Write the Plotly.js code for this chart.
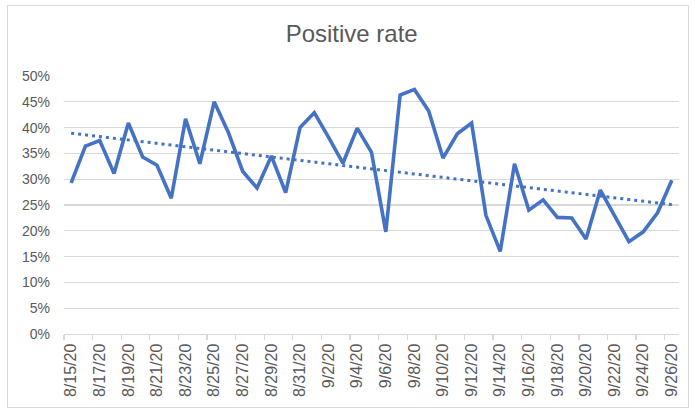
<!DOCTYPE html>
<html>
<head>
<meta charset="utf-8">
<script src="https://cdn.plot.ly/plotly-3.0.1.min.js"></script>
<style>
  html, body { margin: 0; padding: 0; background: #ffffff; }
  #wrap { position: relative; width: 695px; height: 414px; }
  #chart { width: 695px; height: 414px; }
  #frame { position: absolute; left: 7px; top: 5px; width: 682px; height: 403px;
           border: 1.5px solid #d9d9d9; pointer-events: none; box-sizing: border-box; }
</style>
</head>
<body>
<div id="wrap">
  <div id="chart"></div>
  <div id="frame"></div>
</div>
<script>
// Dates (one per day)
const dates = [
  "8/15/20","8/16/20","8/17/20","8/18/20","8/19/20","8/20/20","8/21/20","8/22/20",
  "8/23/20","8/24/20","8/25/20","8/26/20","8/27/20","8/28/20","8/29/20","8/30/20",
  "8/31/20","9/1/20","9/2/20","9/3/20","9/4/20","9/5/20","9/6/20","9/7/20",
  "9/8/20","9/9/20","9/10/20","9/11/20","9/12/20","9/13/20","9/14/20","9/15/20",
  "9/16/20","9/17/20","9/18/20","9/19/20","9/20/20","9/21/20","9/22/20","9/23/20",
  "9/24/20","9/25/20","9/26/20"
];

// Positive rate in percent
const positiveRate = [
  29.3, 36.4, 37.5, 31.1, 40.9, 34.3, 32.7, 26.3, 41.7, 33.0,
  45.0, 39.0, 31.5, 28.3, 34.5, 27.4, 40.0, 42.9, 38.1, 33.1,
  39.9, 35.2, 19.8, 46.3, 47.4, 43.2, 34.1, 38.8, 40.9, 23.0,
  16.0, 33.0, 24.0, 26.0, 22.6, 22.5, 18.4, 27.9, 22.9, 17.9,
  19.8, 23.5, 29.8
];

const yTickVals = [0, 0.05, 0.10, 0.15, 0.20, 0.25, 0.30, 0.35, 0.40, 0.45, 0.50];
const yTickText = ["0%","5%","10%","15%","20%","25%","30%","35%","40%","45%","50%"];

// Values as fractions
const yVals = positiveRate.map(v => v / 100);

// Linear trendline (least squares), like the spreadsheet trendline
const n = yVals.length;
const idx = yVals.map((_, i) => i);
const mx = idx.reduce((a, b) => a + b, 0) / n;
const my = yVals.reduce((a, b) => a + b, 0) / n;
let sxy = 0, sxx = 0;
for (let i = 0; i < n; i++) { sxy += (idx[i] - mx) * (yVals[i] - my); sxx += (idx[i] - mx) ** 2; }
const slope = sxy / sxx;
const intercept = my - slope * mx;
const trendVals = idx.map(i => intercept + slope * i);

const blue = "#4472C4";
const gray = "#595959";
const font = "Liberation Sans, Arial, sans-serif";

const traces = [
  {
    x: dates, y: yVals, type: "scatter", mode: "lines",
    line: { color: blue, width: 3.6 }, hoverinfo: "skip", showlegend: false
  },
  {
    x: dates, y: trendVals, type: "scatter", mode: "lines",
    line: { color: blue, width: 3, dash: "3px,4px" }, hoverinfo: "skip", showlegend: false
  }
];

const layout = {
  width: 695, height: 414,
  margin: { l: 64, r: 16, t: 76, b: 80, pad: 0 },
  paper_bgcolor: "#ffffff", plot_bgcolor: "#ffffff",
  font: { family: font, color: gray },
  showlegend: false,
  title: {
    text: "Positive rate",
    font: { family: font, size: 24, color: gray },
    xref: "container", x: 0.506, xanchor: "center",
    yref: "container", y: 0.918, yanchor: "middle"
  },
  xaxis: {
    type: "category",
    range: [-0.5, dates.length - 0.5],
    dtick: 2,
    tickson: "boundaries",
    ticks: "outside", ticklen: 5, tickwidth: 1.3, tickcolor: "#d9d9d9",
    tickangle: -90,
    tickfont: { family: font, size: 16, color: gray },
    ticklabelstandoff: 2,
    showgrid: false,
    showline: true, linecolor: "#d9d9d9", linewidth: 1.3,
    zeroline: false, fixedrange: true
  },
  yaxis: {
    range: [0, 0.5],
    tickvals: yTickVals, ticktext: yTickText,
    tickfont: { family: font, size: 14, color: gray },
    ticks: "", ticklabelstandoff: 13,
    showgrid: true, gridcolor: "#d9d9d9", gridwidth: 1.3,
    showline: false, zeroline: false, fixedrange: true
  }
};

Plotly.newPlot("chart", traces, layout, { staticPlot: true, displayModeBar: false });
</script>
</body>
</html>
